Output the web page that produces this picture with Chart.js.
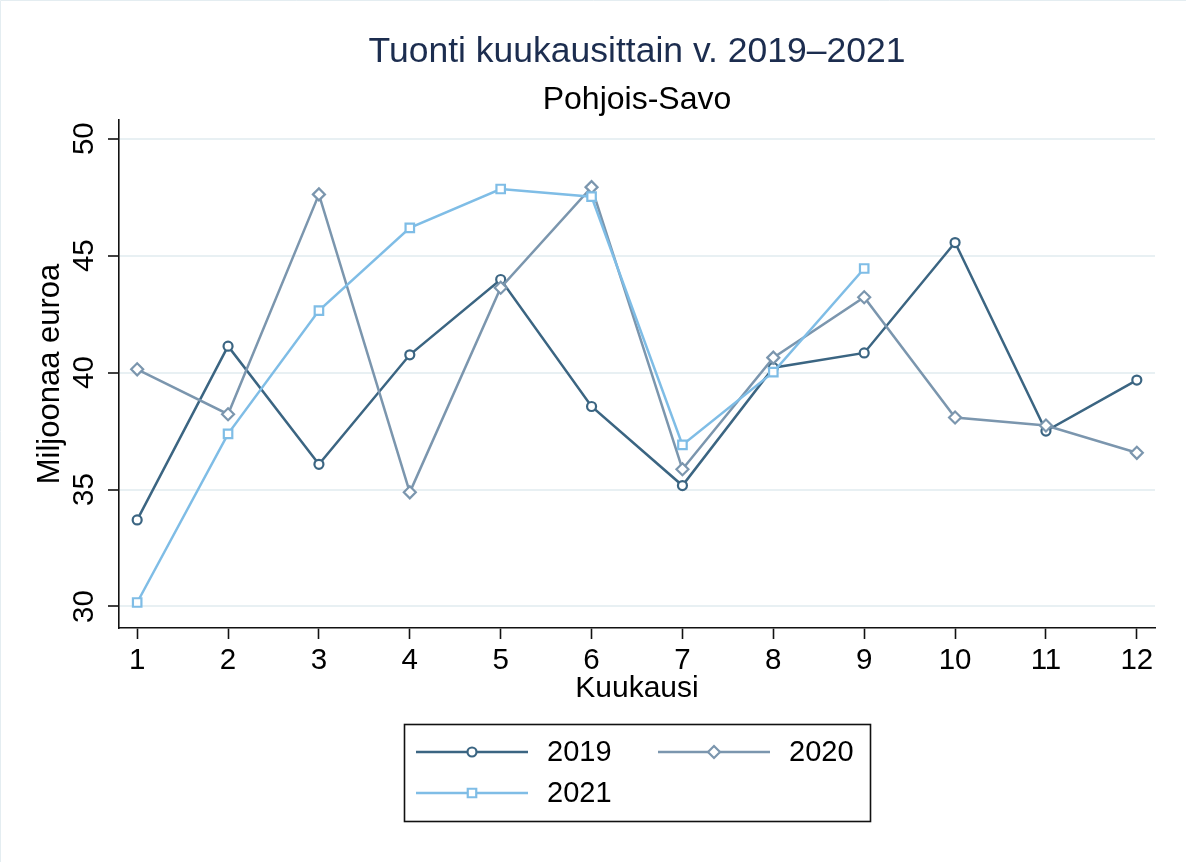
<!DOCTYPE html>
<html>
<head>
<meta charset="utf-8">
<title>Tuonti kuukausittain</title>
<script src="https://cdn.jsdelivr.net/npm/chart.js@4.4.1/dist/chart.umd.min.js"></script>
<style>
  html, body { margin: 0; padding: 0; background: #fff; }
  #wrap { width: 1186px; height: 862px; position: relative; }
</style>
</head>
<body>
<div id="wrap"><canvas id="importChart" width="1186" height="862"></canvas></div>
<script>
// kuukaudet ja arvot (milj. euroa), luettu kuvasta
const months = [1, 2, 3, 4, 5, 6, 7, 8, 9, 10, 11, 12];
const yTicks = [30, 35, 40, 45, 50];
const years = ['2019', '2020', '2021'];
const values2019 = [33.70, 41.13, 36.08, 40.76, 43.98, 38.55, 35.17, 40.21, 40.84, 45.56, 37.50, 39.68];
const values2020 = [40.14, 38.22, 47.62, 34.88, 43.63, 47.93, 35.87, 40.64, 43.22, 38.08, 37.74, 36.57];
const values2021 = [30.17, 37.38, 42.65, 46.19, 47.85, 47.52, 36.91, 40.02, 44.45, null, null, null];

const FONT = "'Liberation Sans', Arial, Helvetica, sans-serif";

const toPoints = (vals) => months.map((m, i) => ({ x: m, y: vals[i] }));

const makeSet = (label, vals, color, style, radius, order) => ({
  label: label,
  data: toPoints(vals),
  borderColor: color,
  backgroundColor: color,
  borderWidth: 2.5,
  pointStyle: style,
  pointRadius: radius,
  pointBorderWidth: 2.2,
  pointBorderColor: color,
  pointBackgroundColor: '#ffffff',
  tension: 0,
  spanGaps: false,
  order: order,
});

// valkoinen tausta ja ohut reunus
const backgroundPlugin = {
  id: 'background',
  beforeDraw(chart) {
    const ctx = chart.ctx;
    ctx.save();
    ctx.fillStyle = '#ffffff';
    ctx.fillRect(0, 0, chart.width, chart.height);
    ctx.strokeStyle = '#e4edf1';
    ctx.lineWidth = 1;
    ctx.beginPath();
    ctx.moveTo(0.5, chart.height);
    ctx.lineTo(0.5, 0.5);
    ctx.lineTo(chart.width, 0.5);
    ctx.stroke();
    ctx.restore();
  }
};

// selite laatikossa, kaksi saraketta
const boxLegendPlugin = {
  id: 'boxLegend',
  afterDraw(chart) {
    const ctx = chart.ctx;
    const area = chart.chartArea;
    const boxW = 466, boxH = 97;
    const left = Math.round((area.left + area.right) / 2 - boxW / 2);
    const top = Math.round(area.bottom + 96);

    ctx.save();
    ctx.strokeStyle = '#111111';
    ctx.lineWidth = 1.6;
    ctx.strokeRect(left + 0.5, top + 0.5, boxW, boxH);

    chart.data.datasets.forEach((ds, i) => {
      const col = i % 2;
      const row = Math.floor(i / 2);
      const x0 = left + 12 + col * 242;
      const y = top + 28 + row * 41;

      ctx.strokeStyle = ds.borderColor;
      ctx.lineWidth = ds.borderWidth;
      ctx.beginPath();
      ctx.moveTo(x0, y);
      ctx.lineTo(x0 + 112, y);
      ctx.stroke();

      ctx.fillStyle = '#ffffff';
      ctx.lineWidth = ds.pointBorderWidth;
      Chart.helpers.drawPoint(ctx, {
        pointStyle: ds.pointStyle,
        radius: ds.pointRadius,
        rotation: 0,
        borderWidth: ds.pointBorderWidth
      }, x0 + 56, y);

      ctx.fillStyle = '#000000';
      ctx.font = '29px ' + FONT;
      ctx.textAlign = 'left';
      ctx.textBaseline = 'middle';
      ctx.fillText(ds.label, x0 + 131, y + 1);
    });
    ctx.restore();
  }
};

const ctx = document.getElementById('importChart');

new Chart(ctx, {
  type: 'line',
  data: {
    datasets: [
      makeSet(years[0], values2019, '#3b6582', 'circle', 4.5, 3),
      makeSet(years[1], values2020, '#7b96ae', 'rectRot', 6, 2),
      makeSet(years[2], values2021, '#7fbde6', 'rect', 6, 1),
    ]
  },
  options: {
    responsive: false,
    animation: false,
    layout: { padding: { left: 0, right: 31, top: 0, bottom: 154 } },
    plugins: {
      legend: { display: false },
      tooltip: { enabled: false },
      title: {
        display: true,
        fullSize: false,
        text: 'Tuonti kuukausittain v. 2019–2021',
        color: '#1c2d4f',
        font: { family: FONT, size: 35.5, weight: 'normal' },
        padding: { top: 31, bottom: 0 }
      },
      subtitle: {
        display: true,
        fullSize: false,
        text: 'Pohjois-Savo',
        color: '#000000',
        font: { family: FONT, size: 32, weight: 'normal' },
        padding: { top: 7, bottom: 1 }
      }
    },
    scales: {
      x: {
        type: 'linear',
        min: 0.8,
        max: 12.2,
        afterBuildTicks: (scale) => { scale.ticks = months.map(v => ({ value: v })); },
        afterFit: (scale) => { scale.height = 80; },
        border: { color: '#111111', width: 1.6 },
        grid: { drawOnChartArea: false, drawTicks: true, tickLength: 11, tickColor: '#111111', tickWidth: 1.6 },
        ticks: {
          color: '#000000',
          font: { family: FONT, size: 29.5 },
          padding: 4,
          maxRotation: 0,
          autoSkip: false
        },
        title: {
          display: true,
          text: 'Kuukausi',
          color: '#000000',
          font: { family: FONT, size: 30 },
          padding: { top: 0, bottom: 1 }
        }
      },
      y: {
        min: 29.08,
        max: 50.8,
        afterBuildTicks: (scale) => { scale.ticks = yTicks.map(v => ({ value: v })); },
        afterFit: (scale) => { scale.width = 119; },
        border: { color: '#111111', width: 1.6 },
        grid: { color: '#e8f0f3', lineWidth: 2, drawTicks: true, tickLength: 11, tickColor: '#111111', tickWidth: 1.6 },
        ticks: {
          color: '#000000',
          font: { family: FONT, size: 29.5 },
          padding: 7,
          minRotation: 90,
          maxRotation: 90,
          crossAlign: 'center',
          autoSkip: false
        },
        title: {
          display: true,
          text: 'Miljoonaa euroa',
          color: '#000000',
          font: { family: FONT, size: 31 },
          padding: { top: 32, bottom: 0 }
        }
      }
    }
  },
  plugins: [backgroundPlugin, boxLegendPlugin]
});
</script>
</body>
</html>
